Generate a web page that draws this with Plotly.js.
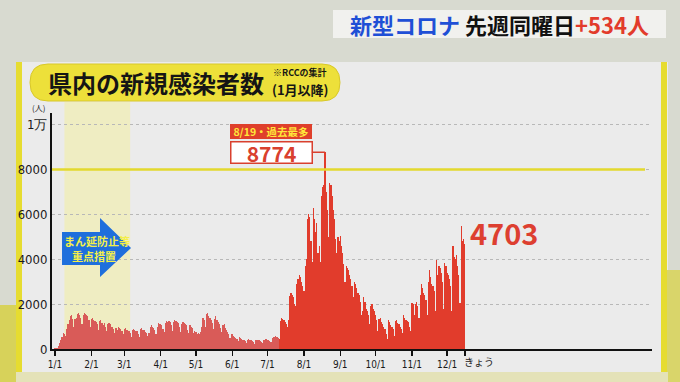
<!DOCTYPE html>
<html>
<head>
<meta charset="utf-8">
<script src="https://cdn.plot.ly/plotly-3.0.1.min.js"></script>
<style>
html,body{margin:0;padding:0;background:#d8dad0;}
#chart{width:680px;height:382px;}
</style>
</head>
<body>
<div id="chart"></div>
<script>
// ---- data: daily new cases, 2022-01-01 .. 2022-12-16 ----
const jan = [30,40,60,120,250,400,550,700,650,600,900,1100,1300,1450,1500,1350,1000,1350,1400,1550,1600,1500,1400,1100,1500,1620,1550,1500,1450,1300,1000];
const feb = [1350,1400,1300,1250,1200,1100,850,1250,1300,1150,1050,1150,1000,800,1100,1150,1100,1000,1000,900,700,950,850,1000,950,900,800,650];
const mar = [900,950,850,850,800,700,550,850,900,850,800,800,650,550,900,950,850,850,750,700,600,700,1000,1050,1000,950,850,650,1000,1150,1100];
const apr = [1100,1050,900,750,1150,1250,1200,1250,1200,1050,800,1200,1300,1250,1200,1150,1000,750,1100,1200,1150,1100,1050,850,700,1050,1000,950,700,800];
const may = [750,650,700,650,750,1000,1400,1300,1000,1550,1600,1450,1400,1300,1150,900,1350,1450,1300,1200,1100,950,750,1050,1100,950,850,750,650,500,650];
const jun = [650,600,550,500,450,350,550,500,450,420,400,350,250,420,450,400,380,350,300,230,380,420,400,380,350,300,250,400,450,430];
const jul = [420,400,350,300,480,550,520,600,550,500,450,1250,1400,1350,1300,1200,1100,1000,1300,2350,2500,2400,2300,2000,1900,2900,3100,3300,3200,3000,2800];
const aug = [2600,3700,4000,5800,6000,5900,4800,3900,6300,5800,5200,5600,4300,4600,3900,6800,7200,7300,8774,7000,6200,5000,7400,7300,6800,6200,5800,4900,4300,5000,4800];
const sep = [5050,4600,4300,3800,3000,3700,3600,3500,3300,3100,2800,2300,3000,2900,2700,2500,2400,2100,1500,1700,2300,2100,1800,1700,1500,1100,1900,2000,1800,1700];
const oct = [1500,1300,800,1350,1400,1200,1100,1000,900,650,450,1300,1200,1050,1000,900,600,1250,1300,1150,1100,1000,900,700,1500,1400,1300,1250,1200,1000,800];
const nov = [2050,2000,1500,2000,2100,1900,1400,2400,2900,2700,2500,2400,2200,1500,3000,3500,3200,2900,2800,2600,1700,3950,3300,3700,3600,3400,3000,1800,3850,3700];
const dec = [3400,3300,3100,2800,1700,4600,4100,4000,4169,3700,3300,2050,5500,4800,4900,4703];
const cases = [...jan,...feb,...mar,...apr,...may,...jun,...jul,...aug,...sep,...oct,...nov,...dec];

const monthTickDates = ['2022-01-01','2022-02-01','2022-03-01','2022-04-01','2022-05-01','2022-06-01','2022-07-01','2022-08-01','2022-09-01','2022-10-01','2022-11-01','2022-12-01','2022-12-16'];
const monthTickText = ['1/1','2/1','3/1','4/1','5/1','6/1','7/1','8/1','9/1','10/1','11/1','12/1',''];
const todayLabel = 'きょう';
const yTickVals = [0,2000,4000,6000,8000,10000];
const yTickText = ['0','2000','4000','6000','8000','1万'];
const peakDate = '2022-08-19', peakValue = 8774;
const todayDate = '2022-12-16', todayValue = 4703;
const weekDiff = 534;
const measureStart = '2022-01-09', measureEnd = '2022-03-06';

// date labels (x categories)
const dates = cases.map((_, i) => {
  const d = new Date(Date.UTC(2022, 0, 1 + i));
  return d.toISOString().slice(0, 10);
});
const colorSwitch = '2022-07-11';
const barColors = dates.map(d => d < colorSwitch ? '#d95b58' : '#e13c2c');

// ---- pixel helpers for decorations (plot area: x 52..652, y 113..349) ----
const L = 52, R = 652, T = 113, B = 349;
const px = x => (x - L) / (R - L);
const py = y => (B - y) / (B - T);
const pt = (x, y) => px(x).toFixed(4) + ',' + py(y).toFixed(4);

function roundRect(x0, y0, x1, y1, r) {
  const ym = (y0 + y1) / 2;
  return 'M' + pt(x0 + r, y0) + ' L' + pt(x1 - r, y0) +
    ' Q' + pt(x1, y0) + ' ' + pt(x1, ym) +
    ' Q' + pt(x1, y1) + ' ' + pt(x1 - r, y1) +
    ' L' + pt(x0 + r, y1) +
    ' Q' + pt(x0, y1) + ' ' + pt(x0, ym) +
    ' Q' + pt(x0, y0) + ' ' + pt(x0 + r, y0) + ' Z';
}
const arrowPath = 'M' + pt(62, 232) + ' L' + pt(100, 232) + ' L' + pt(100, 218) + ' L' + pt(131, 248) +
  ' L' + pt(100, 277) + ' L' + pt(100, 265) + ' L' + pt(62, 265) + ' Z';

const jp = '"Noto Sans CJK JP", "Noto Sans", sans-serif';
const narrow = '"Liberation Sans Narrow", "DejaVu Sans Condensed", "Roboto", sans-serif';

const trace = {
  type: 'bar',
  x: dates,
  y: cases,
  marker: {color: barColors, line: {width: 0}},
  width: 86400000,
  hoverinfo: 'x+y'
};

const shapes = [
  // outer panel
  {type: 'rect', xref: 'paper', yref: 'paper', x0: px(16), x1: px(668), y0: py(372), y1: py(62), fillcolor: '#ebebeb', line: {width: 0}, layer: 'below'},
  {type: 'rect', xref: 'paper', yref: 'paper', x0: px(16), x1: px(22), y0: py(372), y1: py(62), fillcolor: '#e6dc30', line: {width: 0}, layer: 'below'},
  {type: 'rect', xref: 'paper', yref: 'paper', x0: px(661), x1: px(667), y0: py(372), y1: py(62), fillcolor: '#e6dc30', line: {width: 0}, layer: 'below'},
  // background yellow patches
  {type: 'rect', xref: 'paper', yref: 'paper', x0: px(0), x1: px(16), y0: py(382), y1: py(305), fillcolor: '#d7d25a', line: {width: 0}, layer: 'below'},
  {type: 'rect', xref: 'paper', yref: 'paper', x0: px(667), x1: px(680), y0: py(382), y1: py(270), fillcolor: '#d9d56a', line: {width: 0}, layer: 'below'},
  {type: 'rect', xref: 'paper', yref: 'paper', x0: px(16), x1: px(668), y0: py(382), y1: py(372), fillcolor: '#e4e2b8', line: {width: 0}, layer: 'below'},
  // まん延防止等重点措置 period
  {type: 'rect', xref: 'x', yref: 'paper', x0: measureStart, x1: measureEnd, y0: 0, y1: py(102), fillcolor: '#efedc2', line: {width: 0}, layer: 'below'},
  // 8000 line
  {type: 'line', xref: 'paper', yref: 'y', x0: 0, x1: px(645), y0: 8000, y1: 8000, line: {color: '#e3d92e', width: 2.5}, layer: 'above'},
  // title pill
  {type: 'path', xref: 'paper', yref: 'paper', path: roundRect(30, 64, 340, 101, 18), fillcolor: '#ede03a', line: {color: '#d8c82a', width: 1}, layer: 'above'},
  // top banner
  {type: 'rect', xref: 'paper', yref: 'paper', x0: px(333), x1: px(666), y0: py(38), y1: py(10), fillcolor: '#f1f1ee', line: {width: 0}, layer: 'below'},
  // blue arrow
  {type: 'path', xref: 'paper', yref: 'paper', path: arrowPath, fillcolor: '#1f6fdc', line: {width: 0}, layer: 'above'}
];

const annotations = [
  {xref: 'paper', yref: 'paper', x: px(499), y: py(24), xanchor: 'center', yanchor: 'middle', showarrow: false,
   text: '<b><span style="color:#1f4fd6">新型コロナ</span> 先週同曜日<span style="color:#e23b2b">+' + weekDiff + '人</span></b>',
   font: {family: jp, size: 22, color: '#111'}},
  {xref: 'paper', yref: 'paper', x: px(156), y: py(83), xanchor: 'center', yanchor: 'middle', showarrow: false,
   text: '<b>県内の新規感染者数</b>', font: {family: jp, size: 24, color: '#151515'}},
  {xref: 'paper', yref: 'paper', x: px(300), y: py(72), xanchor: 'center', yanchor: 'middle', showarrow: false,
   text: '<b>※RCCの集計</b>', font: {family: jp, size: 9, color: '#151515'}},
  {xref: 'paper', yref: 'paper', x: px(300), y: py(89), xanchor: 'center', yanchor: 'middle', showarrow: false,
   text: '<b>(1月以降)</b>', font: {family: jp, size: 13, color: '#151515'}},
  {xref: 'paper', yref: 'paper', x: px(38), y: py(107), xanchor: 'center', yanchor: 'middle', showarrow: false,
   text: '(人)', font: {family: jp, size: 8, color: '#222'}},
  {xref: 'paper', yref: 'paper', x: px(97), y: py(241), xanchor: 'center', yanchor: 'middle', showarrow: false,
   text: '<b>まん延防止等</b>', font: {family: jp, size: 11, color: '#f4ef4a'}},
  {xref: 'paper', yref: 'paper', x: px(94), y: py(256), xanchor: 'center', yanchor: 'middle', showarrow: false,
   text: '<b>重点措置</b>', font: {family: jp, size: 11, color: '#f4ef4a'}},
  // peak callout
  {xref: 'x', yref: 'y', x: peakDate, y: peakValue, ax: -54, ay: 0, showarrow: true, arrowhead: 0, arrowwidth: 1.5, arrowcolor: '#d9402e',
   text: '<b>' + peakValue + '</b>', font: {family: jp, size: 21, color: '#d9402e'},
   bgcolor: '#ffffff', bordercolor: '#d9402e', borderwidth: 1.5, width: 80, height: 20, borderpad: 0},
  {xref: 'x', yref: 'y', x: peakDate, y: peakValue, xshift: -54, yshift: 21, showarrow: false,
   text: '<b>8/19・過去最多</b>', font: {family: jp, size: 10.5, color: '#ffe83a'},
   bgcolor: '#df3f2b', bordercolor: '#df3f2b', borderwidth: 1, width: 80, height: 13, borderpad: 0},
  // today value
  {xref: 'x', yref: 'y', x: todayDate, y: todayValue, xanchor: 'left', yanchor: 'middle', xshift: 3, yshift: 12, showarrow: false,
   text: '<b>' + todayValue + '</b>', font: {family: jp, size: 29, color: '#dd3f30'}},
  // today tick label
  {xref: 'x', yref: 'paper', x: todayDate, y: py(352), xanchor: 'left', yanchor: 'top', xshift: -3, showarrow: false,
   text: todayLabel, font: {family: jp, size: 10, color: '#1a1a1a'}}
];

const layout = {
  width: 680, height: 382,
  margin: {l: L, r: 680 - R, t: T, b: 382 - B, pad: 0},
  paper_bgcolor: '#d8dad0',
  plot_bgcolor: 'rgba(0,0,0,0)',
  showlegend: false,
  bargap: 0,
  xaxis: {
    type: 'date',
    range: ['2021-12-29 10:00', '2023-05-24 12:00'],
    tickvals: monthTickDates, ticktext: monthTickText, tickangle: 0,
    tickfont: {family: narrow, size: 10, color: '#1a1a1a'},
    ticks: 'outside', ticklen: 5, tickwidth: 1.5, tickcolor: '#111',
    showline: true, linecolor: '#111', linewidth: 2,
    showgrid: false, zeroline: false, fixedrange: true
  },
  yaxis: {
    range: [0, 10520],
    tickvals: yTickVals, ticktext: yTickText,
    tickfont: {family: narrow, size: 13, color: '#1a1a1a'},
    ticks: '', showline: true, linecolor: '#111', linewidth: 2,
    showgrid: true, gridcolor: '#b8b8b8', gridwidth: 1, griddash: 'dot',
    zeroline: false, fixedrange: true
  },
  shapes: shapes,
  annotations: annotations
};

Plotly.newPlot('chart', [trace], layout, {staticPlot: true, displayModeBar: false});
</script>
</body>
</html>
